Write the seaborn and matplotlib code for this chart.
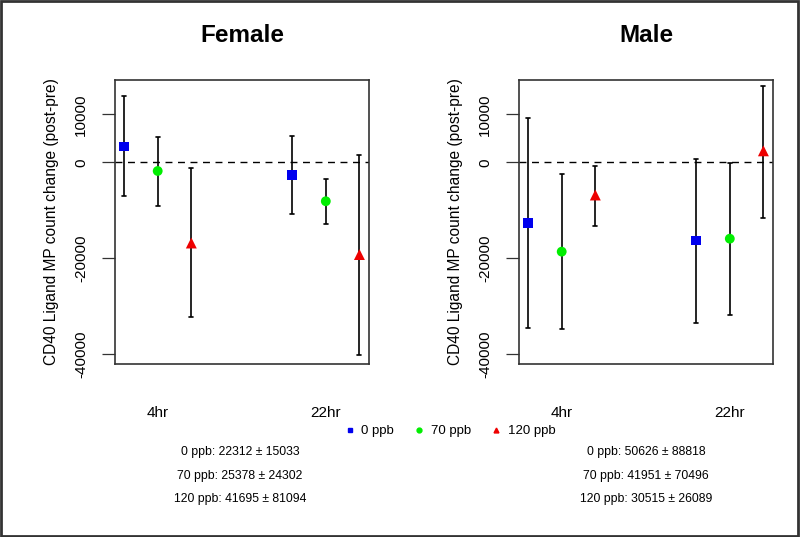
import numpy as np
import pandas as pd
import matplotlib
matplotlib.use("Agg")
import matplotlib.pyplot as plt
import seaborn as sns
from matplotlib.lines import Line2D
from matplotlib.patches import Rectangle

sns.set_style("white")
plt.rcParams['font.family'] = ['Liberation Sans', 'DejaVu Sans']
plt.rcParams['text.color'] = 'black'
plt.rcParams['axes.labelcolor'] = 'black'
plt.rcParams['xtick.color'] = 'black'
plt.rcParams['ytick.color'] = 'black'

times = ["4hr", "22hr"]
doses = ["0 ppb", "70 ppb", "120 ppb"]

# order: (4hr: 0,70,120), (22hr: 0,70,120)
female_mean  = [3300, -1800, -16800, -2600, -8100, -19200]
female_lower = [-7100, -9100, -32300, -10700, -12900, -40100]
female_upper = [13750, 5300, -1250, 5500, -3400, 1450]

male_mean  = [-12600, -18600, -6800, -16300, -15900, 2400]
male_lower = [-34400, -34700, -13200, -33400, -31700, -11500]
male_upper = [9150, -2500, -700, 700, -150, 16000]

female_notes = ["0 ppb: 22312 \u00b1 15033", "70 ppb: 25378 \u00b1 24302", "120 ppb: 41695 \u00b1 81094"]
male_notes = ["0 ppb: 50626 \u00b1 88818", "70 ppb: 41951 \u00b1 70496", "120 ppb: 30515 \u00b1 26089"]

palette = {"0 ppb": "#0000EE", "70 ppb": "#00EE00", "120 ppb": "#EE0000"}
markers = {"0 ppb": "s", "70 ppb": "o", "120 ppb": "^"}
msizes = {"0 ppb": 48, "70 ppb": 50, "120 ppb": 62}
offsets = {"0 ppb": -0.2, "70 ppb": 0.0, "120 ppb": 0.2}

def make_df(mean, lower, upper):
    rows = []
    i = 0
    for ti, t in enumerate(times):
        for d in doses:
            rows.append(dict(time=t, dose=d, x=ti + 1 + offsets[d],
                             mean=mean[i], lower=lower[i], upper=upper[i]))
            i += 1
    return pd.DataFrame(rows)

fig = plt.figure(figsize=(8, 5.37), dpi=100)
W, H = 800, 537
ax_bounds = [(115, 80, 254, 284), (519, 80, 254, 284)]
titles = ["Female", "Male"]
datasets = [(female_mean, female_lower, female_upper), (male_mean, male_lower, male_upper)]
label_y = "CD40 Ligand MP count change (post-pre)"

for (x0, y0, w, h), title, (m, lo, up) in zip(ax_bounds, titles, datasets):
    ax = fig.add_axes([x0 / W, 1 - (y0 + h) / H, w / W, h / H])
    df = make_df(m, lo, up)
    ax.vlines(df["x"], df["lower"], df["upper"], color="black", lw=1.2, zorder=2)
    for _, r in df.iterrows():
        ax.plot([r["x"] - 0.012, r["x"] + 0.012], [r["lower"]] * 2, color="black", lw=1.2, zorder=2)
        ax.plot([r["x"] - 0.012, r["x"] + 0.012], [r["upper"]] * 2, color="black", lw=1.2, zorder=2)
    sns.scatterplot(data=df, x="x", y="mean", hue="dose", style="dose", size="dose",
                    palette=palette, markers=markers, sizes=msizes,
                    hue_order=doses, style_order=doses, size_order=doses,
                    edgecolor="none", linewidth=0, legend=False, ax=ax, zorder=3)
    ax.axhline(0, color="black", lw=1, ls=(0, (5, 4)), zorder=1)
    ax.set_xlim(0.746, 2.257)
    ax.set_ylim(-42000, 17150)
    ax.set_yticks([10000, 0, -20000, -40000])
    ax.set_yticklabels(["10000", "0", "-20000", "-40000"], rotation=90, va="center", fontsize=11)
    ax.set_xticks([1, 2])
    ax.set_xticklabels(times, fontsize=11)
    ax.tick_params(axis="x", length=0, pad=30)
    ax.tick_params(axis="y", length=9.5, width=0.9, pad=10, left=True, color="#333333")
    ax.set_xlabel("")
    ax.set_ylabel(label_y, fontsize=11.2, labelpad=11)
    for s in ax.spines.values():
        s.set_color("#333333")
        s.set_linewidth(1.2)
    ax.set_title(title, fontsize=17.5, fontweight="bold", pad=27)

# Legend
handles = [Line2D([], [], ls="none", marker=markers[d], color=palette[d], markersize=3.5) for d in doses]
fig.legend(handles, doses, loc="center", bbox_to_anchor=(450 / W, 1 - 431 / H), ncol=3,
           frameon=False, fontsize=9.5, handletextpad=0.5, columnspacing=1.5, handlelength=0.8,
           borderpad=0)

# Notes
for cx, notes in [(240, female_notes), (646, male_notes)]:
    for k, t in enumerate(notes):
        fig.text(cx / W, 1 - (452 + 23.5 * k) / H, t, ha="center", va="center", fontsize=8.8)

fig.patches.append(Rectangle((0.001, 0.002), 0.997, 0.996, transform=fig.transFigure,
                             fill=False, edgecolor="#333333", lw=2))

fig.savefig("out.png", dpi=100)
